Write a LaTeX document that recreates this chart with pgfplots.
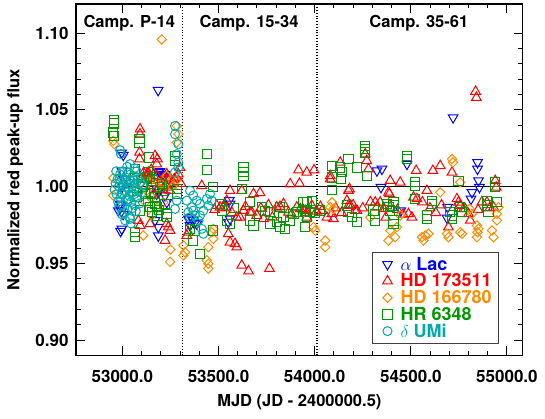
\documentclass[border=0pt]{standalone}
\usepackage{pgfplots}
\pgfplotsset{compat=1.18}
\usepackage{fontspec}
\setmainfont{TeX Gyre Heros}
\definecolor{cBlue}{RGB}{0,0,255}
\definecolor{cRed}{RGB}{255,0,0}
\definecolor{cOrange}{RGB}{255,140,0}
\definecolor{cGreen}{RGB}{0,150,0}
\definecolor{cTeal}{RGB}{0,170,170}
\begin{document}
\begin{tikzpicture}
\useasboundingbox (-76pt,-63.5pt) rectangle (469pt,355.5pt);
\begin{axis}[
  at={(0,0)}, anchor=south west,
  width=446.7pt, height=351.5pt, scale only axis,
  xmin=52759, xmax=55082, ymin=0.89, ymax=1.119,
  xtick={53000,53500,54000,54500,55000},
  ytick={0.90,0.95,1.00,1.05,1.10},
  minor x tick num=4, minor y tick num=4,
  scaled x ticks=false, scaled y ticks=false,
  tick align=inside,
  major tick length=9pt, minor tick length=4.5pt,
  every tick/.style={black, line width=1pt},
  axis line style={line width=1.1pt},
  /pgf/number format/assume math mode=true,
  tick label style={font=\fontsize{17}{20}\selectfont\bfseries},
  xticklabel style={yshift=-11pt, /pgf/number format/fixed, /pgf/number format/fixed zerofill, /pgf/number format/precision=1, /pgf/number format/1000 sep={}},
  yticklabel style={xshift=-4pt, /pgf/number format/fixed, /pgf/number format/fixed zerofill, /pgf/number format/precision=2},
  xlabel={MJD (JD - 2400000.5)},
  ylabel={Normalized red peak-up flux},
  label style={font=\fontsize{16.5}{19}\selectfont\bfseries},
  xlabel style={at={(axis description cs:0.5,0)}, anchor=base, yshift=-51.2pt},
  ylabel style={at={(axis description cs:-0.1366,0.5)}, anchor=center},
  legend cell align=left,
  legend image code/.code={\path (-9.4pt,-3pt) (10.7pt,3pt); \draw[#1] plot coordinates {(0pt,0pt)};},
  legend style={at={(0.947,0.0327)}, anchor=south east, draw=black!75, line width=0.8pt,
    inner xsep=5pt, inner ysep=4.1pt, row sep=0pt,
    font=\fontsize{18}{20}\selectfont\bfseries,
    nodes={inner sep=2pt, text height=12.2pt, text depth=0.5pt}},
]
\addplot[black, line width=0.8pt, forget plot] coordinates {(52759,1.0)(55082,1.0)};
\addplot[black, line width=1.6pt, dash pattern=on 1.1pt off 1.7pt, forget plot] coordinates {(53312,0.89)(53312,1.119)};
\addplot[black, line width=1.6pt, dash pattern=on 1.1pt off 1.7pt, forget plot] coordinates {(54011,0.89)(54011,1.119)};

% alpha Lac
\addplot[only marks, color=cBlue, mark=triangle, mark size=5.6pt, mark options={rotate=180, line width=1pt}] table {
52996 1.0220
53005 1.0205
52991 0.9710
52996 0.9840
52993 0.9880
52997 1.0104
52988 0.9888
52979 0.9844
52997 0.9725
53000 1.0000
53005 1.0050
52989 0.9860
53004 0.9820
53186 1.0628
53187 1.0093
53205 1.0071
53213 1.0082
53222 1.0080
53196 1.0100
53213 1.0060
53186 0.9980
53179 0.9985
53187 0.9963
53222 0.9942
53231 0.9898
53179 0.9953
53170 0.9780
53187 0.9680
53187 0.9736
53343 0.9790
53369 0.9780
53352 0.9747
53387 0.9758
53357 0.9800
53375 0.9760
53560 0.9888
53556 0.9910
53560 0.9790
53551 0.9768
54324 1.0104
54350 1.0115
54345 0.9996
54480 1.0147
54448 0.9844
54691 0.9866
54688 0.9797
54720 1.0450
54847 1.0158
54847 1.0115
54852 1.0039
54857 0.9996
54818 0.9963
54813 0.9920
};
\addlegendentry{\textcolor{cBlue}{$\alpha$ Lac}}

% HD 173511
\addplot[only marks, color=cRed, mark=triangle, mark size=5.6pt, mark options={line width=1pt}] table {
53092 1.0375
53092 1.0342
53089 1.0223
53089 1.0180
53170 1.0201
53182 1.0180
53179 1.0147
53135 1.0093
53144 1.0071
53127 1.0071
53231 1.0082
53239 1.0060
53127 1.0082
53144 1.0060
53161 1.0039
53179 1.0071
53196 1.0017
53213 1.0050
53231 0.9996
53248 0.9974
53265 1.0028
53283 1.0060
53100 1.0050
53110 1.0090
53120 1.0000
53150 1.0110
53160 0.9950
53200 1.0030
53210 0.9980
53240 1.0040
53255 1.0010
53270 1.0050
53291 1.0082
53300 1.0125
53305 1.0020
53083 0.9779
53144 0.9758
53092 0.9747
53231 0.9758
53222 0.9649
53239 0.9736
53248 0.9714
53335 0.9682
53343 0.9703
53413 1.0006
53491 0.9877
53525 0.9866
53543 0.9909
53560 0.9974
53621 0.9974
53682 0.9953
53716 0.9960
53612 0.9800
53673 0.9833
53551 0.9693
53560 0.9638
53586 0.9628
53595 0.9606
53621 0.9487
53656 0.9450
53765 0.9466
53508 0.9866
53595 0.9800
53630 0.9844
53664 0.9833
53699 0.9812
53734 0.9790
53803 0.9866
53864 0.9833
53925 0.9855
53838 0.9888
53907 0.9866
53985 0.9877
53873 1.0017
53916 1.0108
53921 1.0021
53959 1.0093
53997 1.0108
54081 1.0071
54081 1.0050
54133 1.0158
54176 0.9974
54181 0.9985
54263 1.0212
54271 1.0169
54280 1.0115
54038 0.9844
54064 0.9800
53951 0.9844
53959 0.9800
54090 0.9823
54098 0.9790
54168 0.9909
54185 0.9877
54220 0.9844
54176 0.9877
54211 0.9844
54315 0.9898
54324 0.9866
54341 0.9898
54358 0.9855
54393 0.9866
54393 1.0039
54384 0.9963
54389 0.9953
54445 1.0028
54488 0.9823
54506 0.9800
54514 0.9931
54532 0.9920
54528 1.0104
54584 0.9974
54615 1.0104
54653 1.0136
54714 1.0093
54696 0.9736
54740 0.9920
54748 0.9898
54757 0.9877
54774 0.9855
54783 0.9855
54800 0.9823
54809 0.9780
54837 1.0620
54841 1.0580
54896 0.9898
54930 0.9866
54939 1.0039
54944 0.9996
53480 0.9850
53540 0.9860
53570 0.9830
53640 0.9870
53720 0.9860
53760 0.9880
53780 0.9800
53820 0.9870
53880 0.9820
53940 0.9850
54010 0.9840
54030 0.9870
54110 0.9860
54140 0.9830
54200 0.9880
54250 0.9860
54290 0.9900
54370 0.9800
54430 0.9850
54460 0.9820
54560 0.9900
54600 0.9860
54630 0.9830
54660 0.9880
54850 0.9850
54870 0.9900
54910 0.9860
};
\addlegendentry{\textcolor{cRed}{HD 173511}}

% HD 166780
\addplot[only marks, color=cOrange, mark=square, mark size=3.3pt, mark options={rotate=45, line width=1pt}] table {
53205 1.0959
52953 1.0299
52958 1.0277
52953 1.0056
52953 0.9942
53283 1.0396
53291 1.0342
53283 1.0288
53109 0.9682
53092 1.0017
53127 0.9974
53153 0.9931
53187 0.9996
53213 0.9898
53153 0.9812
53250 0.9590
53248 0.9510
53317 0.9617
53326 0.9573
53317 0.9552
53447 0.9606
53439 0.9520
53447 0.9498
53447 0.9466
53473 0.9725
53465 0.9703
53473 0.9660
54090 0.9898
54098 0.9855
54081 0.9866
53994 0.9736
54003 0.9714
54055 0.9649
54055 0.9606
54393 0.9714
54428 0.9736
54419 0.9671
54384 0.9649
54289 0.9800
54445 0.9812
54558 0.9671
54566 0.9649
54575 0.9682
54592 0.9693
54653 0.9963
54714 1.0180
54719 1.0158
54757 1.0028
54688 0.9693
54696 0.9671
54757 0.9703
54766 0.9693
54806 0.9855
54818 0.9823
54844 0.9747
54852 0.9725
54847 0.9703
54844 0.9671
54922 0.9714
54930 0.9671
54948 0.9823
54948 0.9780
54956 0.9866
53170 1.0050
53200 1.0020
53230 1.0070
53260 1.0000
53120 0.9900
53140 1.0030
53280 1.0040
53180 0.9860
};
\addlegendentry{\textcolor{cOrange}{HD 166780}}

% HR 6348
\addplot[only marks, color=cGreen, mark=square, mark size=4.6pt, mark options={line width=1pt}] table {
52957 1.0433
52957 1.0411
52953 1.0353
52957 1.0331
53089 1.0310
53089 1.0288
53140 1.0190
53066 1.0115
53066 1.0093
53135 1.0093
53144 1.0065
53274 1.0201
53274 1.0169
53066 0.9703
53066 0.9671
53135 0.9909
53144 0.9866
53153 0.9833
53222 0.9888
53231 0.9823
53231 0.9800
53109 0.9996
53118 0.9953
53127 1.0060
53075 0.9974
53075 0.9931
53092 0.9844
53283 0.9985
53213 0.9974
53205 1.0017
53170 0.9931
53179 0.9866
53179 0.9812
53101 1.0017
53283 0.9953
53150 0.9960
53160 1.0040
53170 0.9890
53190 0.9850
53196 1.0000
53442 1.0212
53442 1.0108
53630 1.0125
53630 1.0093
53630 1.0071
53621 0.9985
53473 0.9996
53664 0.9898
53725 0.9866
53768 0.9833
53820 0.9866
53838 0.9800
53907 0.9833
53959 0.9898
53977 0.9833
53508 0.9888
53517 0.9844
53543 0.9779
53768 0.9758
53803 0.9768
53664 0.9780
53682 0.9747
53369 0.9649
53404 0.9563
53378 0.9714
53352 0.9725
53473 0.9714
53560 0.9758
53820 0.9736
53846 0.9725
53951 0.9736
54263 1.0266
54263 1.0245
54263 1.0223
54090 1.0136
54090 1.0060
54090 0.9979
54133 1.0125
54142 1.0093
54137 1.0050
54176 1.0180
54220 1.0125
54271 1.0071
53942 0.9898
53951 0.9844
53959 0.9800
53985 0.9909
54029 0.9844
54168 0.9877
54176 0.9833
54194 0.9800
54220 0.9768
54306 0.9844
54315 0.9823
54315 0.9780
54376 0.9888
54384 0.9866
54393 0.9844
54410 0.9780
54480 1.0201
54480 1.0180
54523 1.0028
54523 1.0006
54523 0.9920
54610 0.9909
54610 0.9888
54584 0.9812
54584 0.9790
54748 1.0039
54714 0.9812
54714 0.9790
54705 0.9833
54757 0.9866
54766 0.9833
54896 0.9909
54896 0.9877
54904 0.9833
54939 1.0028
54939 0.9996
54948 0.9898
54410 0.9898
54410 0.9877
54410 0.9758
53580 0.9860
53740 0.9840
53870 0.9780
53890 0.9820
54000 0.9830
};
\addlegendentry{\textcolor{cGreen}{HR 6348}}

% delta UMi
\addplot[only marks, color=cTeal, mark=o, mark size=4.5pt, mark options={line width=1pt}] table {
52988 1.0238
52993 1.0212
53040 1.0147
53040 0.9790
53274 1.0396
53274 1.0342
53291 1.0277
53283 1.0212
53291 1.0158
53291 1.0125
53274 1.0093
53274 0.9855
53283 0.9909
53352 0.9974
53369 0.9942
53387 0.9909
53404 0.9888
53361 0.9866
53343 0.9833
53378 0.9812
53396 0.9780
53421 0.9844
53439 0.9920
53447 0.9877
53413 0.9725
53421 0.9693
53465 0.9909
53456 0.9953
53335 0.9909
53369 0.9844
53404 0.9812
53352 0.9801
52960 0.9980
52965 1.0020
52970 0.9950
52975 1.0050
52978 0.9900
52982 1.0000
52985 0.9870
52988 1.0080
52990 0.9930
52993 1.0030
52996 0.9960
53000 1.0100
53003 0.9880
53006 1.0010
53010 0.9830
53013 0.9970
53016 1.0060
53020 0.9910
53023 1.0030
53026 0.9850
53030 0.9990
53033 1.0090
53036 0.9940
53040 0.9800
53043 1.0040
53046 0.9900
53050 1.0000
53053 0.9860
53056 1.0070
53060 0.9950
53063 1.0120
53066 0.9880
53070 1.0020
53075 0.9930
53080 1.0060
53085 0.9970
53090 0.9890
53095 1.0030
53000 0.9950
52985 1.0050
53010 1.0050
53020 1.0000
53030 0.9920
53040 1.0020
53050 0.9960
53060 1.0040
53015 0.9780
53045 0.9760
52968 1.0100
53070 0.9840
52998 0.9820
53025 1.0130
53075 1.0100
53100 0.9960
53105 1.0010
};
\addlegendentry{\textcolor{cTeal}{$\delta$ UMi}}

\node[font=\fontsize{16.5}{19}\selectfont\bfseries, anchor=base] at (axis cs:53036,1.1036) {Camp. P-14};
\node[font=\fontsize{16.5}{19}\selectfont\bfseries, anchor=base] at (axis cs:53659,1.1036) {Camp. 15-34};
\node[font=\fontsize{16.5}{19}\selectfont\bfseries, anchor=base] at (axis cs:54542,1.1036) {Camp. 35-61};
\end{axis}
\end{tikzpicture}
\end{document}
